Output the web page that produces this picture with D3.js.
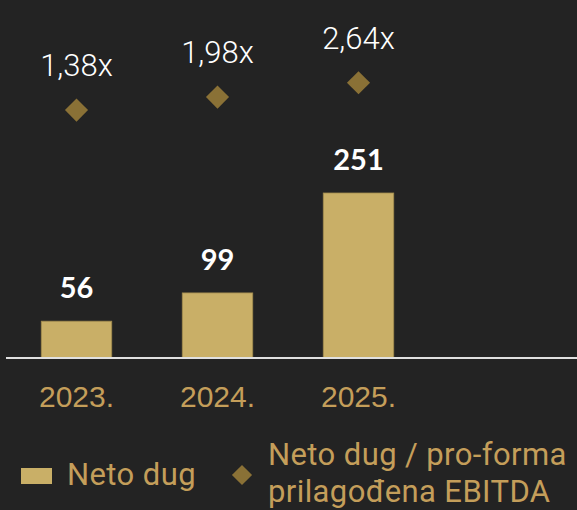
<!DOCTYPE html>
<html>
<head>
<meta charset="utf-8">
<script src="https://cdn.jsdelivr.net/npm/d3@7"></script>
<style>
	html, body { margin: 0; padding: 0; background: #232323; }
	svg { display: block; }
</style>
</head>
<body>
<svg id="chart" width="577" height="510"></svg>
<script>
// data
const years = ['2023.', '2024.', '2025.']
const netDebt = [56, 99, 251]
const leverage = [1.38, 1.98, 2.64]
const leverageLabels = ['1,38x', '1,98x', '2,64x']
const legendItems = ['Neto dug', 'Neto dug / pro-forma', 'prilagođena EBITDA']

const width = 577
const height = 510
const baseY = 358

const barColor = '#c9af67'
const diamondColor = '#8a7136'
const goldText = '#c49e5a'

const svg = d3.select('#chart')

svg.append('rect')
	.attr('width', width)
	.attr('height', height)
	.attr('fill', '#232323')

const x = d3.scaleBand()
	.domain(years)
	.range([6, 429])
	.paddingInner(0.5)
	.paddingOuter(0.25)

const y = d3.scaleLinear()
	.domain([0, 251])
	.range([baseY, 193])

// secondary axis for the ratio markers
const y2 = d3.scaleLinear()
	.domain([0, 3])
	.range([140, 75])

const cx = i => x(years[i]) + x.bandwidth() / 2

// bars
svg.selectAll('.bar')
	.data(netDebt)
	.enter()
	.append('rect')
	.attr('class', 'bar')
	.attr('x', (d, i) => x(years[i]))
	.attr('y', d => y(d))
	.attr('width', x.bandwidth())
	.attr('height', d => baseY - y(d))
	.attr('fill', barColor)
	.attr('stroke', '#a08a4e')
	.attr('stroke-width', 0.8)

// bar values
svg.selectAll('.bar-label')
	.data(netDebt)
	.enter()
	.append('text')
	.attr('class', 'bar-label')
	.attr('x', (d, i) => cx(i))
	.attr('y', d => y(d) - 23)
	.attr('text-anchor', 'middle')
	.style('font-family', 'Lato, sans-serif')
	.style('font-weight', 700)
	.style('font-size', '29px')
	.style('fill', '#fff')
	.text(d => d)

// baseline
svg.append('line')
	.attr('x1', 6)
	.attr('x2', width)
	.attr('y1', baseY)
	.attr('y2', baseY)
	.attr('stroke', '#e0e0e0')
	.attr('stroke-width', 2)

// x axis labels
const xAxis = svg.append('g')
	.attr('transform', `translate(0,${baseY})`)
	.call(d3.axisBottom(x).tickSize(0).tickPadding(28))
xAxis.select('.domain').remove()
xAxis.selectAll('text')
	.style('font-family', '"Liberation Sans", Arial, sans-serif')
	.style('font-size', '30px')
	.style('fill', goldText)

// diamonds
const diamond = d3.symbol().type(d3.symbolDiamond2).size(340)
svg.selectAll('.marker')
	.data(leverage)
	.enter()
	.append('path')
	.attr('class', 'marker')
	.attr('d', diamond)
	.attr('transform', (d, i) => `translate(${cx(i)},${y2(d)})`)
	.attr('fill', diamondColor)

svg.selectAll('.marker-label')
	.data(leverage)
	.enter()
	.append('text')
	.attr('class', 'marker-label')
	.attr('x', (d, i) => cx(i))
	.attr('y', d => y2(d) - 34)
	.attr('text-anchor', 'middle')
	.style('font-family', 'Roboto, sans-serif')
	.style('font-weight', 300)
	.style('font-size', '31px')
	.style('fill', '#fff')
	.text((d, i) => leverageLabels[i])

// legend
const legend = svg.append('g')
	.style('font-family', 'Roboto, sans-serif')
	.style('font-size', '31px')
	.style('letter-spacing', '0.4px')
	.style('fill', goldText)

legend.append('rect')
	.attr('x', 21)
	.attr('y', 468)
	.attr('width', 31)
	.attr('height', 16)
	.attr('fill', barColor)

legend.append('text')
	.attr('x', 67)
	.attr('y', 485)
	.text(legendItems[0])

legend.append('path')
	.attr('d', d3.symbol().type(d3.symbolDiamond2).size(260))
	.attr('transform', 'translate(242,475)')
	.attr('fill', diamondColor)

// two-line legend label kept in one text element
const ratioLabel = legend.append('text')
	.attr('x', 268)
	.attr('y', 465)
ratioLabel.append('tspan')
	.attr('x', 268)
	.text(legendItems[1])
ratioLabel.append('tspan')
	.attr('x', 268)
	.attr('dy', 37)
	.text(legendItems[2])
</script>
</body>
</html>
